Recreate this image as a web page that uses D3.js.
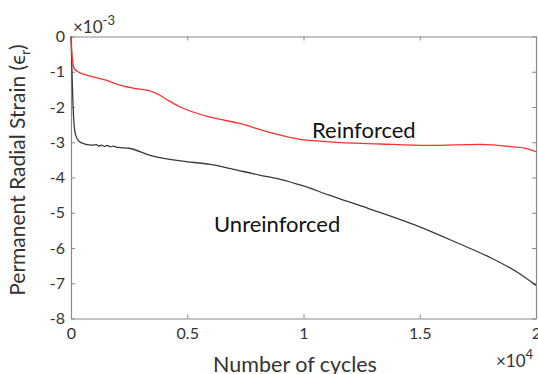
<!DOCTYPE html>
<html>
<head>
<meta charset="utf-8">
<script src="https://cdn.jsdelivr.net/npm/d3@7"></script>
<style>
  body { margin: 0; background: #fff; }
  text { font-family: Lato, "Open Sans", sans-serif; }
</style>
</head>
<body>
<script>
// cycles (x10^4) and strain (x10^-3)
let reinfX = [0, 0.003, 0.008, 0.015, 0.03, 0.064, 0.1, 0.15, 0.21, 0.28, 0.34, 0.38, 0.42, 0.47, 0.6, 0.72, 0.85, 0.98, 1.11, 1.33, 1.54, 1.76, 1.9, 1.96, 2.0];
let reinfY = [0, -0.4, -0.75, -0.92, -1.0, -1.09, -1.15, -1.24, -1.38, -1.48, -1.54, -1.66, -1.82, -2.0, -2.29, -2.46, -2.71, -2.91, -2.99, -3.05, -3.09, -3.06, -3.13, -3.18, -3.27];

let unreinfX = [0, 0.002, 0.005, 0.009, 0.014, 0.02, 0.035, 0.06, 0.09, 0.11, 0.12, 0.13, 0.145, 0.155, 0.17, 0.18, 0.195, 0.21, 0.25, 0.34, 0.47, 0.6, 0.68, 0.81, 0.9, 1.0, 1.11, 1.28, 1.5, 1.67, 1.8, 1.93, 2.0];
let unreinfY = [0, -0.4, -1.2, -2.0, -2.55, -2.8, -2.98, -3.05, -3.08, -3.07, -3.11, -3.08, -3.12, -3.09, -3.13, -3.11, -3.14, -3.15, -3.17, -3.37, -3.53, -3.63, -3.74, -3.93, -4.05, -4.24, -4.5, -4.88, -5.4, -5.88, -6.26, -6.73, -7.06];

let xTicks = [0, 0.5, 1, 1.5, 2];
let xTickLabels = ["0", "0.5", "1", "1.5", "2"];
let yTicks = [0, -1, -2, -3, -4, -5, -6, -7, -8];

let width = 538, height = 374;
let mLeft = 71, mRight = 536, mTop = 36.5, mBottom = 318.5;

let svg = d3.select("body").append("svg")
    .attr("width", width)
    .attr("height", height);

let x = d3.scaleLinear().domain([0, 2]).range([mLeft, mRight]);
let y = d3.scaleLinear().domain([-8, 0]).range([mBottom, mTop]);

let tickColor = "#333";
let boxColor = "#8a8a8a";

// axes (ticks pointing inward)
let xAxis = svg.append("g")
    .attr("transform", "translate(0," + mBottom + ")")
    .call(d3.axisBottom(x).tickValues(xTicks).tickSizeInner(-4).tickSizeOuter(0)
        .tickPadding(9).tickFormat((d, i) => xTickLabels[i]));
let yAxis = svg.append("g")
    .attr("transform", "translate(" + mLeft + ",0)")
    .call(d3.axisLeft(y).tickValues(yTicks).tickSizeInner(-4).tickSizeOuter(0)
        .tickPadding(6).tickFormat(d => String(d)));
let xTop = svg.append("g")
    .attr("transform", "translate(0," + mTop + ")")
    .call(d3.axisTop(x).tickValues(xTicks).tickSizeInner(-4).tickSizeOuter(0).tickFormat(""));
let yRight = svg.append("g")
    .attr("transform", "translate(" + mRight + ",0)")
    .call(d3.axisRight(y).tickValues(yTicks).tickSizeInner(-4).tickSizeOuter(0).tickFormat(""));

[xAxis, yAxis, xTop, yRight].forEach(function(g) {
    g.select(".domain").attr("stroke", boxColor).attr("stroke-width", 1.2);
    g.selectAll(".tick line").attr("stroke", boxColor);
    g.selectAll(".tick text")
        .attr("fill", tickColor)
        .style("font-size", "16px")
        .style("font-family", "Lato, sans-serif");
});

// lines
let line = d3.line()
    .x(d => x(d[0]))
    .y(d => y(d[1]))
    .curve(d3.curveMonotoneX);

svg.append("path")
    .datum(unreinfX.map((v, i) => [v, unreinfY[i]]))
    .attr("fill", "none")
    .attr("stroke", "#3a3a3a")
    .attr("stroke-width", 1.3)
    .attr("d", line);

svg.append("path")
    .datum(reinfX.map((v, i) => [v, reinfY[i]]))
    .attr("fill", "none")
    .attr("stroke", "#ff3030")
    .attr("stroke-width", 1.3)
    .attr("d", line);

// labels inside the plot
svg.append("text")
    .attr("x", 312).attr("y", 138)
    .style("font-size", "22px").attr("fill", "#111")
    .text("Reinforced");
svg.append("text")
    .attr("x", 214).attr("y", 232)
    .style("font-size", "22px").attr("fill", "#111")
    .text("Unreinforced");

// exponent labels
let expTop = svg.append("text")
    .attr("x", 73).attr("y", 33)
    .style("font-size", "17px").attr("fill", tickColor);
expTop.append("tspan").text("\u00d710");
expTop.append("tspan").attr("dy", -8).style("font-size", "13px").text("-3");

let expBottom = svg.append("text")
    .attr("x", 496).attr("y", 367)
    .style("font-size", "17px").attr("fill", tickColor);
expBottom.append("tspan").text("\u00d710");
expBottom.append("tspan").attr("dy", -8).style("font-size", "13px").text("4");

// axis titles
svg.append("text")
    .attr("x", 295).attr("y", 372)
    .attr("text-anchor", "middle")
    .style("font-size", "21.5px").attr("fill", tickColor)
    .text("Number of cycles");

let yTitle = svg.append("text")
    .attr("transform", "translate(25,170) rotate(-90)")
    .attr("text-anchor", "middle")
    .style("font-size", "21px").attr("fill", tickColor);
yTitle.append("tspan").text("Permanent Radial Strain (\u03f5");
yTitle.append("tspan").attr("dy", 5).style("font-size", "14px").text("r");
yTitle.append("tspan").attr("dy", -5).text(")");
</script>
</body>
</html>
